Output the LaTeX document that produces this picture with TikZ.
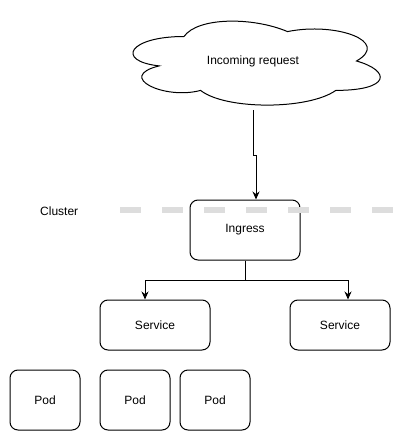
\documentclass[tikz,border=0pt]{standalone}
\usepackage{fontspec}
\setmainfont{Liberation Sans}
\usetikzlibrary{arrows.meta}
\definecolor{dashgray}{RGB}{221,221,221}
\begin{document}
\begin{tikzpicture}[x=1pt,y=-1pt,
  txt/.style={font=\fontsize{12}{14}\selectfont,inner sep=0pt},
  box/.style={txt,draw,line width=1pt,rounded corners=8pt,fill=white},
  arr/.style={line width=1pt,-{Stealth[length=8pt,width=7pt]}},
  clusterline/.style={dashgray,line width=6pt,dash pattern=on 21pt off 21pt}]
\useasboundingbox (0,0) rectangle (415,441);
% cloud outline
\begin{scope}[shift={(115,12)},x=276pt,y=-98pt]
\draw[line width=1pt,fill=white]
  (0.25,0.25) .. controls (0.05,0.25) and (0,0.5) .. (0.16,0.55)
  .. controls (0,0.66) and (0.18,0.9) .. (0.31,0.8)
  .. controls (0.4,1) and (0.7,1) .. (0.8,0.8)
  .. controls (1,0.8) and (1,0.6) .. (0.875,0.5)
  .. controls (1,0.3) and (0.8,0.1) .. (0.625,0.2)
  .. controls (0.5,0.05) and (0.3,0.05) .. (0.25,0.25) -- cycle;
\end{scope}
\node[txt,minimum width=276pt,minimum height=98pt] (cloud) at (253,61) {Incoming request};
% boxes
\node[box,minimum width=110pt,minimum height=60pt] (ingress) at (245,230) {Ingress};
\node[box,minimum width=110pt,minimum height=50pt] (svc1) at (155,325) {Service};
\node[box,minimum width=100pt,minimum height=50pt] (svc2) at (340,325) {Service};
\node[box,minimum width=70pt,minimum height=60pt] (pod1) at (45,400) {Pod};
\node[box,minimum width=70pt,minimum height=60pt] (pod2) at (135,400) {Pod};
\node[box,minimum width=70pt,minimum height=60pt] (pod3) at (215,400) {Pod};
% cluster boundary
\node[txt,anchor=west] (cluster) at (40,211) {Cluster};
\coordinate (cl) at (120,210);
\coordinate (cr) at (393,210);
\draw[clusterline] (cl) -- (cr);
% connectors
\draw[arr] (cloud.south) -- ++(0,45) -| ([xshift=3pt]ingress.north -| cloud.south);
\draw[arr] (ingress.south) -- ++(0,20) -| ([xshift=-10pt]svc1.north);
\draw[arr] (ingress.south) -- ++(0,20) -| ([xshift=8pt]svc2.north);
\end{tikzpicture}
\end{document}
